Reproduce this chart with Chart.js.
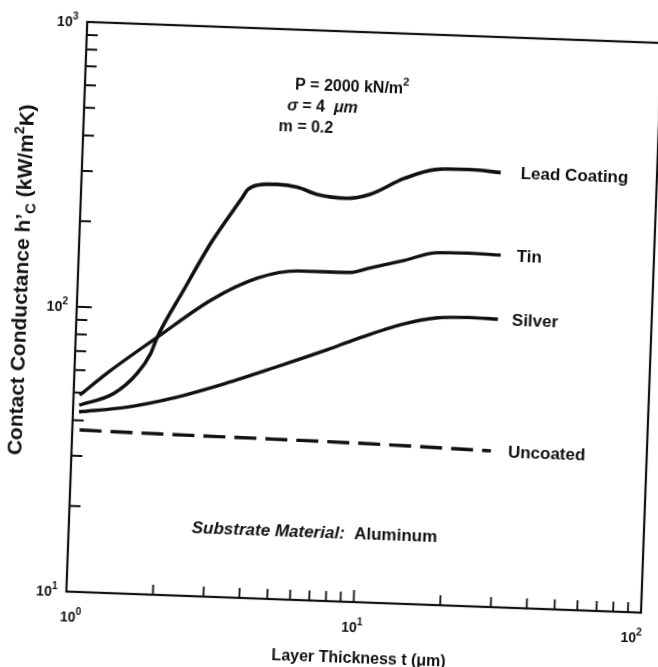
<!DOCTYPE html>
<html>
<head>
<meta charset="utf-8">
<script src="https://cdn.jsdelivr.net/npm/chart.js@4.4.0/dist/chart.umd.min.js"></script>
<style>
    html, body { margin: 0; padding: 0; background: #fff; overflow: hidden; }
    #wrap { width: 658px; height: 667px; }
    /* la figura original esta escaneada un poco torcida */
    #grafico { transform: rotate(2.1deg); transform-origin: 50% 50%; }
</style>
</head>
<body>
<div id="wrap"><canvas id="grafico" width="658" height="667"></canvas></div>
<script>
//Espesor de capa t (um) y conductancia h'c (kW/m2K)
const leadT = [1.05, 1.38, 1.65, 1.83, 1.92, 2.34, 2.88, 3.61, 3.8, 4.11, 4.81, 5.65, 6.63, 8.42, 10.1, 13.2, 17.1, 22.2, 28.6]
const leadH = [45.2, 50.2, 59.3, 70, 80, 118, 175, 250, 271, 282, 285, 280, 266, 260, 270, 310, 337, 340, 335]

const tinT = [1.05, 1.32, 1.92, 2.93, 4.22, 5.79, 8.82, 10.3, 13.5, 17.5, 22.7, 29.3]
const tinH = [49, 59.8, 80, 110, 133, 142.5, 143, 149, 160, 172, 173, 172]

const silverT = [1.05, 1.53, 2.26, 3.35, 4.96, 7.34, 9.5, 13.7, 17.8, 23.2, 29.2]
const silverH = [42.8, 45.1, 49.5, 56.2, 64.9, 75.4, 83.8, 95.7, 101.6, 103, 102.5]

const uncoatedT = [1.06, 2, 5, 12, 28.7]
const uncoatedH = [37, 36.7, 36.4, 36, 35.3]

const seriesNames = ['Lead Coating', 'Tin', 'Silver', 'Uncoated']

//Marcas de los ejes
const xMajor = [1, 10, 100]
const xMinor = [2, 3, 4, 5, 6, 7, 8, 9, 20, 30, 40, 50, 60, 70, 80, 90]
const yMajor = [10, 100, 1000]
const yMinor = [20, 30, 40, 50, 60, 70, 80, 90, 200, 300, 400, 500, 600, 700, 800, 900]
const xExp = ['0', '1', '2']
const yExp = ['1', '2', '3']

const FONT = '"Liberation Sans", Arial, sans-serif'
const INK = '#111'

function toPoints(t, h) {
    let pts = []
    for (let i = 0; i < t.length; i++) {
        pts.push({ x: t[i], y: h[i] })
    }
    return pts
}

//Dibuja texto con partes de distinto tamano (superindices, subindices)
function drawRuns(ctx, runs, x, y, align) {
    let total = 0
    runs.forEach(function (r) {
        ctx.font = r.font
        r.w = ctx.measureText(r.text).width
        total += r.w
    })
    let cx = align === 'center' ? x - total / 2 : (align === 'right' ? x - total : x)
    ctx.textAlign = 'left'
    runs.forEach(function (r) {
        ctx.font = r.font
        ctx.fillText(r.text, cx, y + (r.dy || 0))
        cx += r.w
    })
}

function pow10(exp) {
    return [
        { text: '10', font: 'bold 14px ' + FONT },
        { text: exp, font: 'bold 10px ' + FONT, dy: -7 }
    ]
}

const decor = {
    id: 'decor',
    afterDraw: function (chart) {
        const ctx = chart.ctx
        const a = chart.chartArea
        const xs = chart.scales.x, ys = chart.scales.y
        ctx.save()
        ctx.strokeStyle = INK
        ctx.fillStyle = INK
        ctx.lineCap = 'butt'

        //Marco
        ctx.lineWidth = 2.2
        ctx.strokeRect(a.left, a.top, a.right - a.left, a.bottom - a.top)

        //Marcas del eje y hacia dentro
        ctx.lineWidth = 2
        ctx.beginPath()
        yMinor.forEach(function (v) {
            let y = ys.getPixelForValue(v)
            ctx.moveTo(a.left, y)
            ctx.lineTo(a.left + 11, y)
        })
        let y100 = ys.getPixelForValue(100)
        ctx.moveTo(a.left, y100)
        ctx.lineTo(a.left + 15, y100)
        ctx.stroke()

        //Marcas del eje x
        ctx.lineWidth = 1.8
        ctx.beginPath()
        xMinor.forEach(function (v) {
            let x = xs.getPixelForValue(v)
            ctx.moveTo(x, a.bottom)
            ctx.lineTo(x, a.bottom - 10)
        })
        let x10 = xs.getPixelForValue(10)
        ctx.moveTo(x10, a.bottom)
        ctx.lineTo(x10, a.bottom - 12)
        ctx.stroke()

        //Etiquetas de las marcas
        ctx.textBaseline = 'alphabetic'
        const xShift = [5, -1, -9]
        xMajor.forEach(function (v, i) {
            drawRuns(ctx, pow10(xExp[i]), xs.getPixelForValue(v) + xShift[i], a.bottom + 30, 'center')
        })
        yMajor.forEach(function (v, i) {
            drawRuns(ctx, pow10(yExp[i]), a.left - 9, ys.getPixelForValue(v) + 5, 'right')
        })

        //Nombres de las curvas al final de cada una
        const offs = [20, 16, 14, 17]
        ctx.font = 'bold 17px ' + FONT
        ctx.textAlign = 'left'
        ctx.textBaseline = 'middle'
        seriesNames.forEach(function (name, i) {
            let pts = chart.getDatasetMeta(i).data
            let last = pts[pts.length - 1]
            ctx.fillText(name, last.x + offs[i], last.y + 1)
        })

        //Condiciones del ensayo
        ctx.textBaseline = 'alphabetic'
        const f16 = 'bold 16px ' + FONT
        drawRuns(ctx, [
            { text: 'P = 2000 kN/m', font: f16 },
            { text: '2', font: 'bold 11px ' + FONT, dy: -8 }
        ], 286, 91, 'left')
        drawRuns(ctx, [
            { text: '\u03c3', font: 'italic bold 16px ' + FONT },
            { text: ' = 4  ', font: f16 },
            { text: '\u03bcm', font: 'italic bold 16px ' + FONT }
        ], 279, 111.5, 'left')
        drawRuns(ctx, [{ text: 'm = 0.2', font: f16 }], 271, 133, 'left')

        drawRuns(ctx, [
            { text: 'Substrate Material:', font: 'italic bold 17px ' + FONT },
            { text: '  Aluminum', font: 'bold 17px ' + FONT }
        ], 199, 538, 'left')

        //Titulo del eje x
        drawRuns(ctx, [{ text: 'Layer Thickness t (\u03bcm)', font: 'bold 16px ' + FONT }],
            (a.left + a.right) / 2 + 7, 662, 'center')

        //Titulo del eje y (girado)
        ctx.translate(26, 291)
        ctx.rotate(-Math.PI / 2)
        const f21 = 'bold 21px ' + FONT
        drawRuns(ctx, [
            { text: 'Contact Conductance h\u2019', font: f21 },
            { text: 'C', font: 'bold 15px ' + FONT, dy: 5 },
            { text: ' (kW/m', font: f21 },
            { text: '2', font: 'bold 14px ' + FONT, dy: -9 },
            { text: 'K)', font: f21 }
        ], 0, 0, 'center')

        ctx.restore()
    }
}

const GRAFICO = document.getElementById('grafico')

new Chart(GRAFICO, {
    type: 'line',
    data: {
        datasets: [{
            label: seriesNames[0],
            data: toPoints(leadT, leadH),
            borderColor: INK,
            borderWidth: 3.6
        }, {
            label: seriesNames[1],
            data: toPoints(tinT, tinH),
            borderColor: INK,
            borderWidth: 3.4
        }, {
            label: seriesNames[2],
            data: toPoints(silverT, silverH),
            borderColor: INK,
            borderWidth: 3.4
        }, {
            label: seriesNames[3],
            data: toPoints(uncoatedT, uncoatedH),
            borderColor: INK,
            borderWidth: 3.4,
            borderDash: [22, 9]
        }]
    },
    options: {
        responsive: false,
        animation: false,
        elements: {
            point: { radius: 0 },
            line: { cubicInterpolationMode: 'monotone', fill: false }
        },
        layout: {
            padding: { left: 76, top: 31, right: 7, bottom: 66 }
        },
        plugins: {
            legend: { display: false },
            tooltip: { enabled: false }
        },
        scales: {
            x: { type: 'logarithmic', min: 1, max: 100, display: false },
            y: { type: 'logarithmic', min: 10, max: 1000, display: false }
        }
    },
    plugins: [decor]
})
</script>
</body>
</html>
